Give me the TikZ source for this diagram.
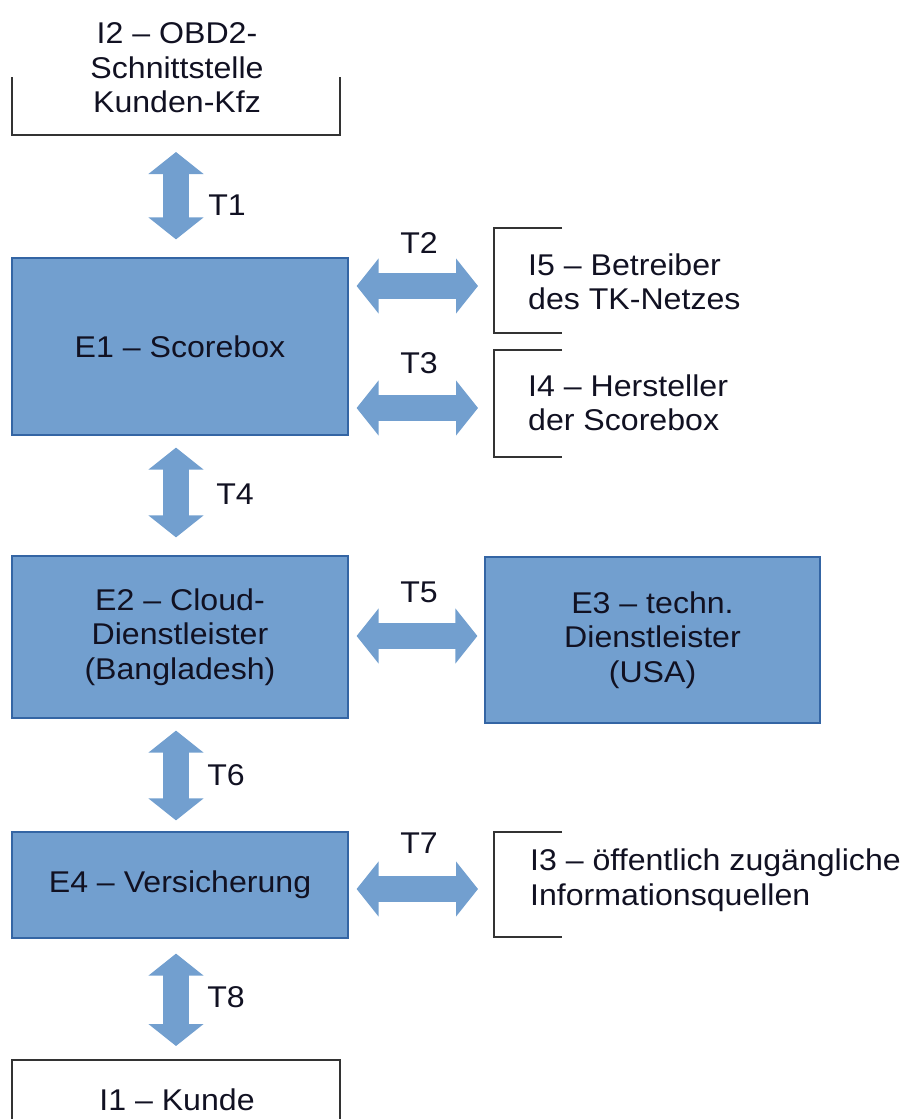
\documentclass[tikz,border=0pt]{standalone}
\usepackage{fontspec}
\setmainfont[FakeStretch=1.07]{Liberation Sans}
\usetikzlibrary{arrows.meta}
\definecolor{boxfill}{HTML}{729FCF}
\definecolor{boxline}{HTML}{3465A4}
\definecolor{brline}{HTML}{333333}
\definecolor{ink}{HTML}{111122}
\tikzset{
  txt/.style={font=\fontsize{30}{34.5}\selectfont, text=ink, inner sep=0pt, align=center},
  entity/.style={draw=boxline, fill=boxfill, line width=1.2pt, inner sep=0pt, text=ink,
    font=\fontsize{30}{34.5}\selectfont, align=center},
  bracket/.style={draw=brline, line width=1.3pt},
  fat/.style={draw=boxfill, line width=26pt,
    {Triangle[length=22pt 0, width=54pt 0]}-{Triangle[length=22pt 0, width=54pt 0]}},
  tlabel/.style={font=\fontsize{30}{34}\selectfont, text=ink, inner sep=0pt}
}
\begin{document}
\begin{tikzpicture}[x=1pt,y=-1pt]
\useasboundingbox (0,0) rectangle (914,1119);

% external interfaces (open brackets)
\node[txt] (I2) at (177,68) {I2 – OBD2-\\Schnittstelle\\Kunden-Kfz};
\draw[bracket] (12,77) -- (12,135) -- (340,135) -- (340,77);
\coordinate (I2b) at (176,135);

\node[txt, anchor=west, align=left] (I5) at (528,282) {I5 – Betreiber\\des TK-Netzes};
\draw[bracket] (562,228) -| (494,333) -- (562,333);
\coordinate (b5) at (494,286);

\node[txt, anchor=west, align=left] (I4) at (528,403) {I4 – Hersteller\\der Scorebox};
\draw[bracket] (562,350) -| (494,457) -- (562,457);
\coordinate (b4) at (494,408);

\node[txt, anchor=west, align=left] (I3) at (530,880) {I3 – öffentlich zugängliche\\Informationsquellen};
\draw[bracket] (562,832) -| (494,937) -- (562,937);
\coordinate (b3) at (494,889);

\node[txt] (I1) at (177,1100) {I1 – Kunde};
\draw[bracket] (12,1125) -- (12,1060) -- (340,1060) -- (340,1125);
\coordinate (I1t) at (176,1060);

% internal entities
\node[entity, minimum width=336pt, minimum height=177pt] (E1) at (180,346.5) {E1 – Scorebox};
\node[entity, minimum width=336pt, minimum height=162pt] (E2) at (180,637) {E2 – Cloud-\\Dienstleister\\(Bangladesh)};
\node[entity, minimum width=335pt, minimum height=166pt] (E3) at (652.5,640) {E3 – techn.\\Dienstleister\\(USA)};
\node[entity, minimum width=336pt, minimum height=106pt] (E4) at (180,885) {E4 – Versicherung};

% transfers
\draw[fat, shorten <=17pt, shorten >=18pt] (I2b) -- (I2b |- E1.north);
\node[tlabel] (T1) at (227,205) {T1};

\draw[fat, shorten <=8pt, shorten >=16pt] (E1.east |- b5) -- (b5);
\node[tlabel] (T2) at (419,243) {T2};

\draw[fat, shorten <=8pt, shorten >=16pt] (E1.east |- b4) -- (b4);
\node[tlabel] (T3) at (419,363) {T3};

\draw[fat, shorten <=12pt, shorten >=18pt] (I2b |- E1.south) -- (I2b |- E2.north);
\node[tlabel] (T4) at (235,494) {T4};

\draw[fat, shorten <=8pt, shorten >=7pt] (E2.east |- 0,636) -- (E3.west |- 0,636);
\node[tlabel] (T5) at (419,592) {T5};

\draw[fat, shorten <=12pt, shorten >=11pt] (I2b |- E2.south) -- (I2b |- E4.north);
\node[tlabel] (T6) at (226,775) {T6};

\draw[fat, shorten <=8pt, shorten >=16pt] (E4.east |- b3) -- (b3);
\node[tlabel] (T7) at (419,843) {T7};

\draw[fat, shorten <=15pt, shorten >=14pt] (I2b |- E4.south) -- (I1t);
\node[tlabel] (T8) at (226,997) {T8};
\end{tikzpicture}
\end{document}
